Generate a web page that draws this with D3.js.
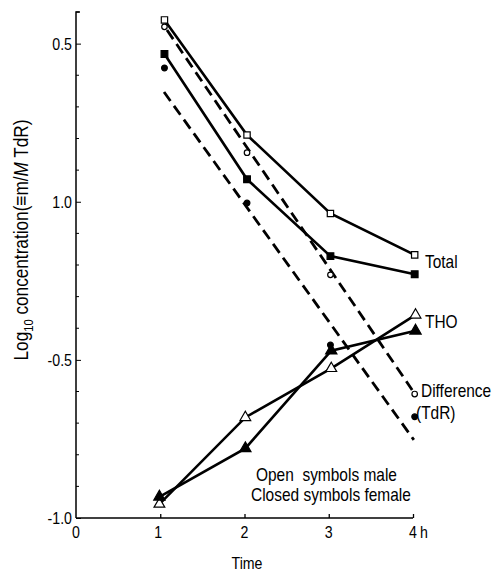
<!DOCTYPE html>
<html>
<head>
<meta charset="utf-8">
<script src="https://cdn.jsdelivr.net/npm/d3@7"></script>
<style>
  body { margin: 0; background: #fff; }
  svg text { font-family: "Liberation Sans", Arial, sans-serif; fill: #000; }
</style>
</head>
<body>
<div id="chart"></div>
<script>
// values (log10 concentration, time in h)
var hoursA = [1.05, 2.03, 3.02, 4.02];   // total / difference points
var hoursB = [0.99, 2.01, 3.03, 4.03];   // THO points

var totalMale   = [-0.425, -0.789, -1.037, -1.168];
var totalFemale = [-0.533, -0.929, -1.172, -1.229];
var diffMale    = [-0.447, -0.845, -1.231, -1.608];
var diffFemale  = [-0.577, -1.004, -1.453, -1.680];
var thoMale     = [-1.956, -1.682, -1.527, -1.358];
var thoFemale   = [-1.933, -1.780, -1.471, -1.408];

// dashed fitted lines for the difference (TdR)
var fitMaleHours   = [1.08, 3.99];
var fitMale        = [-0.457, -1.595];
var fitFemaleHours = [1.045, 4.01];
var fitFemale      = [-0.653, -1.753];

var xTicks = [0, 1, 2, 3, 4];
var yTicks = [-0.5, -1.0, -1.5, -2.0];
var yTickLabels = ["0.5", "1.0", "-0.5", "-1.0"];

(function() {
    var width = 501,
        height = 573,
        squeeze = 0.86;   // the print uses a narrow face

    var svg = d3.select("#chart").append("svg")
        .attr("width", width).attr("height", height);

    var x = d3.scaleLinear().domain([0, 4]).range([76, 413]);
    var y = d3.scaleLinear().domain([-2.0, -0.4]).range([518, 12]);

    // narrow text: place then squeeze horizontally
    function label(px, py, str, size, anchor) {
        return svg.append("text")
            .attr("transform", "translate(" + px + "," + py + ") scale(" + squeeze + ",1)")
            .attr("text-anchor", anchor || "start")
            .attr("font-size", size)
            .attr("xml:space", "preserve")
            .style("white-space", "pre")
            .text(str);
    }

    // y axis, ticks pointing inward
    var yAxis = d3.axisRight(y)
        .tickValues(yTicks)
        .tickSize(5)
        .tickFormat("");
    var gy = svg.append("g").attr("transform", "translate(" + x(0) + ",0)").call(yAxis);
    gy.select(".domain").attr("stroke-width", 1.5).attr("d", "M0," + y(-2.0) + "V" + y(-0.4) + "h4");

    // minor ticks every 0.1
    svg.append("g").selectAll("line")
        .data(d3.range(-1.9, -0.35, 0.1).filter(function(v) { return Math.abs(v * 2 - Math.round(v * 2)) > 0.01; }))
        .enter().append("line")
        .attr("x1", x(0)).attr("x2", x(0) + 3)
        .attr("y1", function(d) { return y(d); }).attr("y2", function(d) { return y(d); })
        .attr("stroke", "#000").attr("stroke-width", 1);

    yTicks.forEach(function(d, i) {
        label(72, y(d) + 6, yTickLabels[i], 16.5, "end");
    });

    // x axis, ticks pointing up
    var xAxis = d3.axisTop(x)
        .tickValues(xTicks.slice(1))
        .tickSize(4)
        .tickFormat("");
    var gx = svg.append("g").attr("transform", "translate(0," + y(-2.0) + ")").call(xAxis);
    gx.select(".domain").attr("stroke-width", 1.5).attr("d", "M" + x(0) + ",0H" + x(4));
    gx.selectAll(".tick line").attr("stroke-width", 1.3);

    xTicks.forEach(function(d) {
        label(x(d) - (d === 1 ? 2 : 0), 538, String(d), 16.5, "middle");
    });
    label(x(4) + 7, 538, "h", 16.5);
    label(247, 569, "Time", 16.5, "middle");

    // y title
    var yt = svg.append("text")
        .attr("transform", "translate(28,240) rotate(-90) scale(" + squeeze + ",1)")
        .attr("text-anchor", "middle")
        .attr("font-size", 20);
    yt.append("tspan").text("Log");
    yt.append("tspan").attr("font-size", 13).attr("dy", 5).text("10");
    yt.append("tspan").attr("dy", -5).text(" concentration(\u2261m/");
    yt.append("tspan").attr("font-style", "italic").text("M");
    yt.append("tspan").text(" TdR)");

    var line = d3.line()
        .x(function(d) { return x(d[0]); })
        .y(function(d) { return y(d[1]); });

    function zip(xs, ys) {
        return xs.map(function(t, i) { return [t, ys[i]]; });
    }

    // dashed fits
    [[fitMaleHours, fitMale], [fitFemaleHours, fitFemale]].forEach(function(f) {
        svg.append("path")
            .attr("d", line(zip(f[0], f[1])))
            .attr("fill", "none").attr("stroke", "#000")
            .attr("stroke-width", 2.8)
            .attr("stroke-dasharray", "11,6");
    });

    // solid series
    var series = [
        { h: hoursA, v: totalMale,   sym: d3.symbolSquare,   size: 40, filled: false, joined: true },
        { h: hoursA, v: totalFemale, sym: d3.symbolSquare,   size: 45, filled: true,  joined: true },
        { h: hoursA, v: diffMale,    sym: d3.symbolCircle,   size: 24, filled: false, joined: false },
        { h: hoursA, v: diffFemale,  sym: d3.symbolCircle,   size: 26, filled: true,  joined: false },
        { h: hoursB, v: thoMale,     sym: d3.symbolTriangle, size: 50, filled: false, joined: true },
        { h: hoursB, v: thoFemale,   sym: d3.symbolTriangle, size: 55, filled: true,  joined: true }
    ];

    series.forEach(function(s) {
        var pts = zip(s.h, s.v);
        if (s.joined) {
            svg.append("path")
                .attr("d", line(pts))
                .attr("fill", "none").attr("stroke", "#000")
                .attr("stroke-width", 2.6);
        }
        svg.append("g").selectAll("path")
            .data(pts)
            .enter().append("path")
            .attr("transform", function(d) { return "translate(" + x(d[0]) + "," + y(d[1]) + ")"; })
            .attr("d", d3.symbol().type(s.sym).size(s.size))
            .attr("fill", s.filled ? "#000" : "#fff")
            .attr("stroke", "#000")
            .attr("stroke-width", 1.2);
    });

    // series labels and key
    label(425, 268, "Total", 18);
    label(425, 328, "THO", 18);
    label(421, 397, "Difference", 18);
    label(416, 419, "(TdR)", 18);
    label(256, 481, "Open  symbols male", 18);
    label(251, 501, "Closed symbols female", 18);
})();
</script>
</body>
</html>
